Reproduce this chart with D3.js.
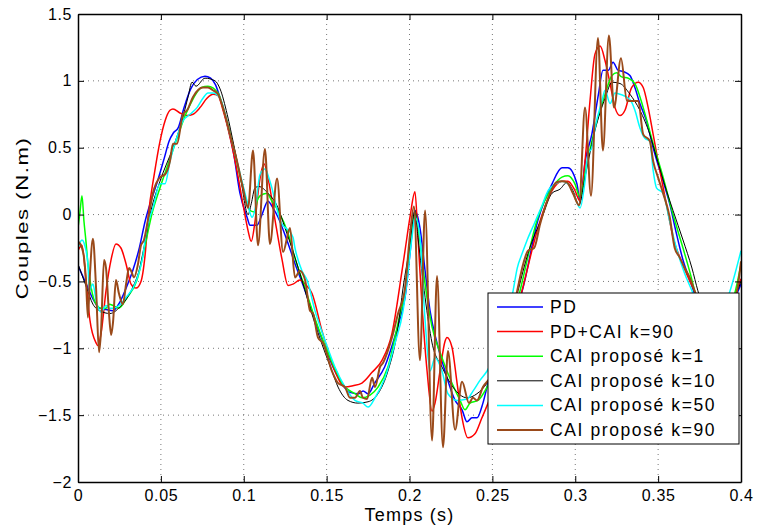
<!DOCTYPE html>
<html>
<head>
<meta charset="utf-8">
<script src="https://cdn.jsdelivr.net/npm/d3@7"></script>
<style>
    body { margin: 0; background: #fff; }
    svg text { font-family: "Liberation Sans", Arial, Helvetica, sans-serif; fill: #000; }
</style>
</head>
<body>
<div id="chart"></div>
<script>
const xTicks = [0, 0.05, 0.1, 0.15, 0.2, 0.25, 0.3, 0.35, 0.4];
const yTicks = [-2, -1.5, -1, -0.5, 0, 0.5, 1, 1.5];
const xLabel = 'Temps (s)';
const yLabel = 'Couples (N.m)';
const seriesNames = ['PD', 'PD+CAI k=90', 'CAI proposé k=1', 'CAI proposé k=10', 'CAI proposé k=50', 'CAI proposé k=90'];

// [temps, couple]
const pd = [[0,-0.38],[0.005,-0.52],[0.009,-0.63],[0.013,-0.7],[0.017,-0.71],[0.021,-0.72],[0.025,-0.66],[0.029,-0.55],[0.033,-0.42],[0.037,-0.25],[0.0405,-0.05],[0.044,0.1],[0.048,0.25],[0.052,0.42],[0.055,0.55],[0.0575,0.61],[0.0605,0.65],[0.064,0.8],[0.068,0.94],[0.072,1.01],[0.0766,1.035],[0.08,1.02],[0.083,0.97],[0.086,0.86],[0.09,0.68],[0.094,0.45],[0.0977,0.16],[0.102,-0.02],[0.1038,-0.08],[0.108,-0.08],[0.111,0],[0.1146,0.1],[0.1176,0.05],[0.1207,-0.02],[0.126,-0.19],[0.131,-0.37],[0.137,-0.57],[0.143,-0.79],[0.149,-0.99],[0.155,-1.17],[0.159,-1.26],[0.164,-1.33],[0.169,-1.34],[0.172,-1.32],[0.175,-1.34],[0.179,-1.26],[0.185,-1.14],[0.191,-0.92],[0.1955,-0.72],[0.1973,-0.62],[0.2003,-0.29],[0.2033,0.03],[0.2063,-0.1],[0.2094,-0.42],[0.2124,-0.72],[0.2166,-0.96],[0.2214,-1.17],[0.2275,-1.39],[0.2317,-1.46],[0.2347,-1.55],[0.2377,-1.52],[0.2407,-1.52],[0.2443,-1.41],[0.2474,-1.26],[0.255,-1.05],[0.262,-0.77],[0.268,-0.57],[0.2775,-0.04],[0.286,0.23],[0.292,0.35],[0.2956,0.35],[0.301,0.23],[0.3029,0.1],[0.306,0.4],[0.31,0.6],[0.314,0.9],[0.3167,1.08],[0.32,1.08],[0.3228,1.14],[0.3258,1.08],[0.329,1.07],[0.333,1.04],[0.336,0.95],[0.339,0.83],[0.343,0.7],[0.347,0.5],[0.353,0.25],[0.357,0.08],[0.361,-0.14],[0.365,-0.34],[0.37,-0.52],[0.378,-0.8],[0.386,-0.88],[0.393,-0.72],[0.4,-0.52]];

const pdCai90 = [[0,-0.27],[0.0024,-0.23],[0.0048,-0.49],[0.0072,-0.79],[0.0109,-0.96],[0.012,-0.98],[0.0139,-0.89],[0.0169,-0.57],[0.0199,-0.34],[0.0229,-0.22],[0.0259,-0.25],[0.029,-0.37],[0.032,-0.52],[0.035,-0.55],[0.038,-0.5],[0.0405,-0.3],[0.0425,0],[0.046,0.3],[0.0495,0.55],[0.0525,0.7],[0.0555,0.78],[0.0573,0.79],[0.0615,0.76],[0.0658,0.74],[0.0694,0.75],[0.0736,0.8],[0.0778,0.87],[0.0815,0.9],[0.0845,0.89],[0.0875,0.78],[0.0917,0.58],[0.0959,0.33],[0.0995,0.08],[0.1026,-0.12],[0.1045,-0.2],[0.1068,-0.05],[0.109,0.2],[0.1122,0.38],[0.115,0.25],[0.119,-0.05],[0.123,-0.33],[0.1267,-0.53],[0.1297,-0.52],[0.1339,-0.49],[0.137,-0.52],[0.1412,-0.59],[0.1472,-0.87],[0.155,-1.17],[0.1611,-1.29],[0.1659,-1.28],[0.1713,-1.26],[0.1774,-1.18],[0.1834,-1.09],[0.1894,-0.89],[0.1955,-0.42],[0.1973,-0.27],[0.2003,-0.02],[0.2033,0.17],[0.2051,-0.17],[0.2075,-0.67],[0.2106,-1.17],[0.2136,-1.47],[0.2154,-1.41],[0.2184,-1.17],[0.2214,-0.95],[0.2226,-0.92],[0.2256,-0.99],[0.2287,-1.26],[0.2317,-1.52],[0.2353,-1.67],[0.2395,-1.64],[0.2437,-1.52],[0.2474,-1.41],[0.255,-1.15],[0.262,-0.85],[0.2679,-0.57],[0.2775,-0.1],[0.286,0.18],[0.292,0.25],[0.2956,0.25],[0.2998,0.18],[0.3029,0.1],[0.3059,0.4],[0.3089,0.85],[0.3119,1.2],[0.315,1.26],[0.318,1.15],[0.321,0.98],[0.324,0.8],[0.327,0.74],[0.33,0.78],[0.334,0.95],[0.338,0.99],[0.341,0.95],[0.344,0.8],[0.347,0.6],[0.351,0.33],[0.3553,0.06],[0.359,-0.17],[0.3644,-0.36],[0.3692,-0.5],[0.373,-0.6],[0.38,-0.82],[0.388,-0.85],[0.395,-0.65],[0.4,-0.48]];

const cai1 = [[0,-0.1],[0.0012,0.02],[0.0024,0.14],[0.0036,-0.05],[0.0048,-0.2],[0.006,-0.37],[0.008,-0.55],[0.0109,-0.67],[0.0139,-0.7],[0.0169,-0.7],[0.019,-0.67],[0.0211,-0.68],[0.0247,-0.7],[0.0296,-0.62],[0.0356,-0.49],[0.041,-0.2],[0.0445,0],[0.05,0.22],[0.055,0.4],[0.06,0.58],[0.065,0.75],[0.0676,0.82],[0.071,0.9],[0.0745,0.95],[0.0784,0.96],[0.0845,0.91],[0.088,0.78],[0.093,0.55],[0.0995,0.2],[0.1038,0.03],[0.1068,0.02],[0.108,0.1],[0.1098,0.14],[0.114,0.16],[0.117,0.1],[0.1207,0.03],[0.1267,-0.14],[0.131,-0.33],[0.137,-0.55],[0.143,-0.78],[0.149,-0.98],[0.155,-1.15],[0.1593,-1.26],[0.1671,-1.34],[0.1713,-1.37],[0.1762,-1.35],[0.181,-1.29],[0.187,-1.14],[0.1931,-0.81],[0.1973,-0.57],[0.2003,-0.25],[0.2033,0.01],[0.2063,-0.2],[0.2094,-0.52],[0.2136,-0.84],[0.2196,-1.07],[0.2256,-1.26],[0.2305,-1.39],[0.2335,-1.46],[0.2365,-1.41],[0.2413,-1.39],[0.2468,-1.29],[0.255,-1.05],[0.262,-0.8],[0.2667,-0.57],[0.2775,-0.02],[0.286,0.2],[0.292,0.28],[0.2956,0.29],[0.2998,0.23],[0.3029,0.13],[0.307,0.38],[0.312,0.65],[0.318,0.9],[0.3222,1.04],[0.325,1.06],[0.328,1.03],[0.332,1.02],[0.336,0.98],[0.341,0.8],[0.347,0.53],[0.353,0.28],[0.359,0],[0.365,-0.25],[0.37,-0.47],[0.372,-0.57],[0.38,-0.85],[0.388,-0.85],[0.397,-0.55],[0.4,-0.37]];

const cai10 = [[0,-0.37],[0.005,-0.54],[0.009,-0.67],[0.0133,-0.72],[0.0193,-0.74],[0.0253,-0.69],[0.0332,-0.54],[0.0368,-0.42],[0.0405,-0.2],[0.0435,0],[0.0495,0.25],[0.0573,0.5],[0.0627,0.7],[0.0664,0.88],[0.0688,0.99],[0.0712,0.96],[0.0766,1.02],[0.0827,1],[0.0857,0.94],[0.09,0.75],[0.094,0.52],[0.098,0.28],[0.1026,0],[0.1045,0.08],[0.1068,0.2],[0.109,0.21],[0.1146,0.16],[0.1207,0.05],[0.1249,-0.1],[0.1309,-0.32],[0.1351,-0.49],[0.1418,-0.77],[0.1478,-0.99],[0.1532,-1.17],[0.1569,-1.29],[0.1629,-1.39],[0.1689,-1.41],[0.175,-1.4],[0.181,-1.34],[0.187,-1.17],[0.1931,-0.84],[0.1961,-0.55],[0.2,-0.25],[0.2033,0.03],[0.2051,-0.17],[0.2094,-0.62],[0.2136,-0.96],[0.2196,-1.14],[0.2262,-1.29],[0.2347,-1.37],[0.2407,-1.34],[0.2468,-1.26],[0.255,-1.05],[0.262,-0.75],[0.2655,-0.57],[0.2715,-0.29],[0.28,-0.02],[0.286,0.16],[0.2908,0.19],[0.295,0.24],[0.2986,0.18],[0.3023,0.07],[0.3059,0.28],[0.3119,0.63],[0.318,0.87],[0.3222,0.99],[0.327,0.98],[0.333,0.9],[0.339,0.78],[0.345,0.6],[0.349,0.43],[0.355,0.18],[0.359,0.03],[0.365,-0.19],[0.3704,-0.4],[0.374,-0.57],[0.38,-0.78],[0.387,-0.86],[0.393,-0.72],[0.4,-0.5]];

const cai50 = [[0,-0.25],[0.0024,-0.19],[0.0036,-0.21],[0.006,-0.37],[0.0068,-0.57],[0.009,-0.52],[0.0109,-0.64],[0.0139,-0.73],[0.0169,-0.68],[0.0187,-0.7],[0.0211,-0.7],[0.0247,-0.68],[0.029,-0.62],[0.035,-0.5],[0.039,-0.32],[0.0416,-0.1],[0.0452,0.05],[0.0495,0.23],[0.0525,0.23],[0.0555,0.4],[0.0597,0.58],[0.0633,0.7],[0.0676,0.75],[0.0718,0.8],[0.0754,0.87],[0.0784,0.91],[0.0814,0.91],[0.0857,0.87],[0.0917,0.6],[0.0977,0.31],[0.102,0.1],[0.105,-0.02],[0.107,0.05],[0.1098,0.3],[0.1128,0.34],[0.1158,0.25],[0.1219,-0.04],[0.1297,-0.17],[0.1309,-0.25],[0.1351,-0.42],[0.1382,-0.49],[0.143,-0.72],[0.149,-0.94],[0.155,-1.14],[0.1611,-1.29],[0.1671,-1.39],[0.1719,-1.41],[0.175,-1.44],[0.1792,-1.37],[0.1852,-1.22],[0.1913,-0.96],[0.1961,-0.72],[0.1973,-0.62],[0.2015,-0.17],[0.2033,-0.02],[0.2063,-0.17],[0.2094,-0.79],[0.2124,-1.17],[0.2154,-1.07],[0.2196,-1.17],[0.2232,-1.34],[0.2287,-1.39],[0.2347,-1.38],[0.2383,-1.32],[0.2425,-1.24],[0.2468,-1.17],[0.255,-0.95],[0.2625,-0.57],[0.265,-0.4],[0.268,-0.29],[0.271,-0.19],[0.2752,-0.07],[0.2794,0.05],[0.2837,0.18],[0.288,0.23],[0.292,0.25],[0.2956,0.23],[0.2998,0.13],[0.3029,0.05],[0.3059,0.25],[0.3077,0.45],[0.31,0.5],[0.312,0.65],[0.3161,0.85],[0.318,0.93],[0.321,0.83],[0.324,0.91],[0.327,0.9],[0.333,0.86],[0.336,0.78],[0.339,0.65],[0.342,0.57],[0.345,0.55],[0.347,0.33],[0.349,0.2],[0.353,0.16],[0.357,-0.05],[0.361,-0.25],[0.366,-0.44],[0.3704,-0.57],[0.378,-0.82],[0.386,-0.8],[0.3934,-0.57],[0.4,-0.27]];

const cai90 = [[0,-0.2],[0.0024,-0.25],[0.0036,-0.32],[0.0048,-0.49],[0.006,-0.77],[0.0072,-0.45],[0.009,-0.18],[0.0109,-0.55],[0.0127,-1.03],[0.0139,-0.87],[0.0157,-0.34],[0.0169,-0.4],[0.0187,-0.74],[0.02,-0.9],[0.0211,-0.81],[0.0229,-0.49],[0.0247,-0.59],[0.0271,-0.67],[0.029,-0.52],[0.0308,-0.4],[0.032,-0.42],[0.0338,-0.47],[0.0362,-0.37],[0.038,-0.23],[0.0398,-0.19],[0.0422,-0.04],[0.0452,0.16],[0.0495,0.28],[0.0525,0.3],[0.0555,0.4],[0.0573,0.53],[0.0597,0.53],[0.0633,0.75],[0.0658,0.78],[0.0694,0.88],[0.0754,0.95],[0.0784,0.95],[0.0814,0.93],[0.0845,0.9],[0.0875,0.8],[0.0917,0.6],[0.0959,0.4],[0.0995,0.2],[0.1026,0.05],[0.1056,0.48],[0.1086,-0.23],[0.1128,0.49],[0.1158,-0.22],[0.1201,0.27],[0.1237,-0.28],[0.1279,-0.1],[0.1309,-0.47],[0.1339,-0.42],[0.137,-0.49],[0.14,-0.72],[0.1418,-0.74],[0.1448,-0.92],[0.1478,-0.96],[0.1532,-1.17],[0.1569,-1.26],[0.1611,-1.29],[0.1641,-1.37],[0.1671,-1.37],[0.1701,-1.32],[0.1719,-1.37],[0.1744,-1.38],[0.1774,-1.22],[0.1792,-1.29],[0.1822,-1.14],[0.184,-1.11],[0.1894,-0.92],[0.1931,-0.74],[0.1973,-0.55],[0.2003,-0.15],[0.2027,0.06],[0.2063,-1.09],[0.2094,0.03],[0.2136,-1.69],[0.2166,-0.46],[0.2202,-1.74],[0.2232,-1.02],[0.2275,-1.61],[0.2317,-1.25],[0.2359,-1.41],[0.2383,-1.37],[0.2407,-1.39],[0.2443,-1.29],[0.2486,-1.22],[0.255,-1],[0.262,-0.75],[0.265,-0.57],[0.2686,-0.37],[0.2715,-0.27],[0.2752,-0.25],[0.2788,-0.07],[0.2849,0.16],[0.2885,0.24],[0.292,0.25],[0.295,0.24],[0.2986,0.16],[0.3023,0.07],[0.3059,0.8],[0.3095,0.14],[0.3137,1.32],[0.3167,0.48],[0.3203,1.34],[0.3234,0.8],[0.3276,1.17],[0.3312,0.85],[0.335,0.85],[0.338,0.85],[0.341,0.6],[0.345,0.55],[0.347,0.4],[0.3499,0.28],[0.353,0.16],[0.357,-0.02],[0.36,-0.25],[0.363,-0.32],[0.366,-0.4],[0.369,-0.47],[0.372,-0.57],[0.38,-0.85],[0.388,-0.85],[0.3976,-0.57],[0.4,-0.35]];

const allSeries = [pd, pdCai90, cai1, cai10, cai50, cai90];
const colors = ['#0000ff', '#ff0000', '#00ff00', '#000000', '#00ffff', '#9a4a1a'];
const widths = [1.5, 1.5, 1.5, 1, 1.5, 2];

const W = 757, H = 529;
const margin = { top: 14, right: 16, bottom: 47, left: 78 };
const plotW = W - margin.left - margin.right;
const plotH = H - margin.top - margin.bottom;

const svg = d3.select('#chart')
    .append('svg')
    .attr('width', W)
    .attr('height', H);

svg.append('rect').attr('width', W).attr('height', H).attr('fill', '#fff');

const g = svg.append('g').attr('transform', `translate(${margin.left},${margin.top})`);

const x = d3.scaleLinear().domain([0, 0.4]).range([0, plotW]);
const y = d3.scaleLinear().domain([-2, 1.5]).range([plotH, 0]);

const fmt = (d) => String(d).replace('-', '\u2212');

// grille pointillée
g.append('g').selectAll('line')
    .data(xTicks.slice(1, -1))
    .enter()
    .append('line')
    .attr('x1', (d) => x(d)).attr('x2', (d) => x(d))
    .attr('y1', 0).attr('y2', plotH)
    .attr('stroke', '#777').attr('stroke-width', 1)
    .attr('stroke-dasharray', '1,4');

g.append('g').selectAll('line')
    .data(yTicks.slice(1, -1))
    .enter()
    .append('line')
    .attr('x1', 0).attr('x2', plotW)
    .attr('y1', (d) => y(d)).attr('y2', (d) => y(d))
    .attr('stroke', '#777').attr('stroke-width', 1)
    .attr('stroke-dasharray', '1,4');

svg.append('clipPath').attr('id', 'clip')
    .append('rect').attr('width', plotW).attr('height', plotH);

const line = d3.line()
    .x((d) => x(d[0]))
    .y((d) => y(d[1]))
    .curve(d3.curveMonotoneX);

const lines = g.append('g').attr('clip-path', 'url(#clip)');
allSeries.forEach((s, i) => {
    lines.append('path')
        .datum(s)
        .attr('fill', 'none')
        .attr('stroke', colors[i])
        .attr('stroke-width', widths[i])
        .attr('stroke-linejoin', 'round')
        .attr('d', line);
});

// axes (ticks vers l'intérieur sur les quatre côtés)
const styleAxis = (sel) => {
    sel.select('.domain').attr('stroke', '#000').attr('stroke-width', 1.5);
    sel.selectAll('.tick line').attr('stroke', '#000').attr('stroke-width', 1);
    sel.selectAll('.tick text')
        .style('font-family', '"Liberation Sans", Arial, sans-serif')
        .style('font-size', '16px')
        .style('letter-spacing', '0.6px')
        .attr('fill', '#000');
};

g.append('g')
    .attr('transform', `translate(0,${plotH})`)
    .call(d3.axisBottom(x).tickValues(xTicks).tickFormat(fmt).tickSizeInner(-6).tickSizeOuter(0).tickPadding(8))
    .call(styleAxis);

g.append('g')
    .call(d3.axisLeft(y).tickValues(yTicks).tickFormat(fmt).tickSizeInner(-6).tickSizeOuter(0).tickPadding(6))
    .call(styleAxis);

g.append('g')
    .call(d3.axisTop(x).tickValues(xTicks).tickFormat('').tickSizeInner(-6).tickSizeOuter(0))
    .call(styleAxis);

g.append('g')
    .attr('transform', `translate(${plotW},0)`)
    .call(d3.axisRight(y).tickValues(yTicks).tickFormat('').tickSizeInner(-6).tickSizeOuter(0))
    .call(styleAxis);

svg.append('text')
    .attr('x', margin.left + plotW / 2)
    .attr('y', 521)
    .attr('text-anchor', 'middle')
    .style('font-size', '18px')
    .style('letter-spacing', '1.2px')
    .text(xLabel);

svg.append('text')
    .attr('transform', 'translate(28,218) rotate(-90) scale(1.3,1)')
    .attr('text-anchor', 'middle')
    .style('font-size', '17px')
    .style('letter-spacing', '1.2px')
    .text(yLabel);

// légende
const legend = svg.append('g').attr('transform', 'translate(488,293)');
legend.append('rect')
    .attr('width', 251).attr('height', 151)
    .attr('fill', '#fff').attr('stroke', '#000').attr('stroke-width', 1);

seriesNames.forEach((name, i) => {
    const ly = 14 + i * 24.6;
    legend.append('line')
        .attr('x1', 9).attr('x2', 55)
        .attr('y1', ly).attr('y2', ly)
        .attr('stroke', colors[i])
        .attr('stroke-width', widths[i]);
    legend.append('text')
        .attr('x', 62).attr('y', ly + 6)
        .style('font-size', '17.5px')
        .style('letter-spacing', '1.6px')
        .text(name);
});
</script>
</body>
</html>
